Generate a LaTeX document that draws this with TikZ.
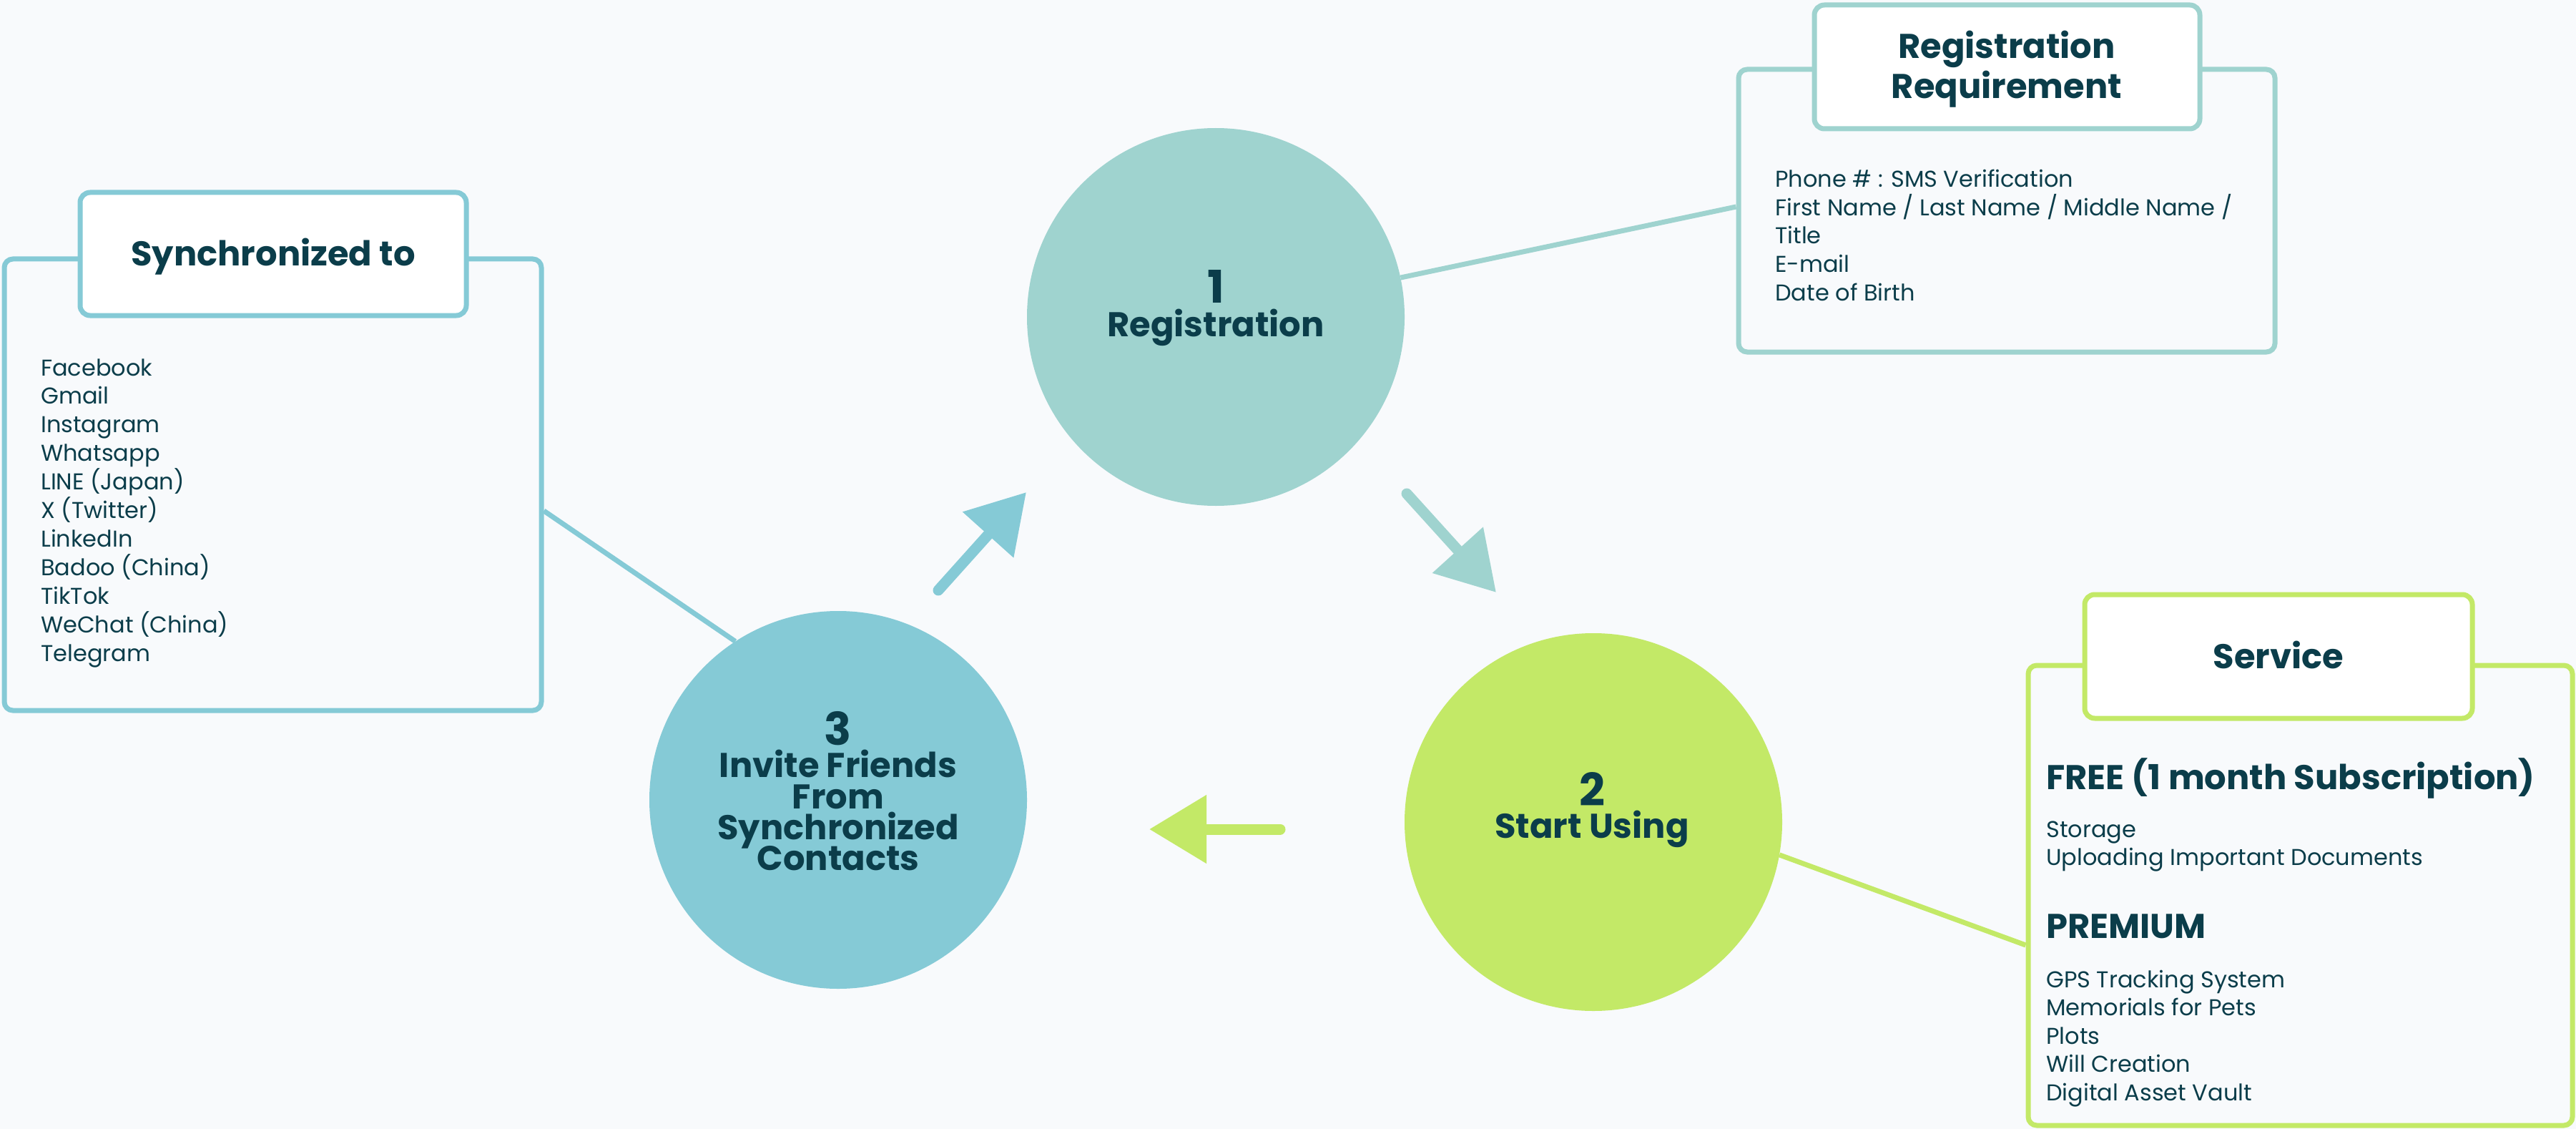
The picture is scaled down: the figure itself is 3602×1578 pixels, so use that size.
\documentclass[tikz,border=0pt]{standalone}
\usepackage{fontspec}
\setmainfont{Poppins}
\usetikzlibrary{arrows.meta,calc}
\definecolor{bg}{HTML}{F8FAFC}
\definecolor{ink}{HTML}{0B3D4A}
\definecolor{tealA}{HTML}{9FD3CF}
\definecolor{tealB}{HTML}{85CAD6}
\definecolor{lime}{HTML}{C3E967}
\begin{document}
\begin{tikzpicture}[x=1pt,y=-1pt,
 bubble/.style={circle,inner sep=0pt,minimum size=528pt},
 frame/.style={draw,line width=7pt,rounded corners=12pt,rectangle,inner sep=0pt,fill=bg},
 head/.style={draw,line width=7pt,rounded corners=14pt,rectangle,inner sep=0pt,fill=white},
 num/.style={font=\fontsize{63}{63}\selectfont\bfseries,text=ink,anchor=base,inner sep=0pt,text height=44pt,text depth=0pt},
 lab/.style={font=\fontsize{48}{48}\selectfont\bfseries,text=ink,anchor=base,inner sep=0pt,text height=34pt,text depth=8pt},
 ttl/.style={font=\fontsize{48}{48}\selectfont\bfseries,text=ink,anchor=base,inner sep=0pt},
 sub/.style={font=\fontsize{48}{48}\selectfont\bfseries,text=ink,anchor=base west,inner sep=0pt},
 item/.style={font=\fontsize{32}{32}\selectfont,text=ink,anchor=base west,inner sep=0pt},
 link/.style={line width=7pt},
 flow/.style={line width=15pt,line cap=round,-{Triangle[length=80pt,width=92pt]}},
]
\useasboundingbox (0,0) rectangle (3602,1578);
\fill[bg] (0,0) rectangle (3602,1578);

% frames
\node[frame,draw=tealB,minimum width=751pt,minimum height=631pt] (syncbox) at (381.5,677.5) {};
\node[head,draw=tealB,minimum width=540pt,minimum height=172pt] (synchead) at (382,355) {};
\node[frame,draw=tealA,minimum width=750pt,minimum height=395pt] (regbox) at (2806,294.5) {};
\node[head,draw=tealA,minimum width=539pt,minimum height=173pt] (reghead) at (2806.5,93.5) {};
\node[frame,draw=lime,minimum width=761pt,minimum height=643pt] (svcbox) at (3216.5,1251.5) {};
\node[head,draw=lime,minimum width=542pt,minimum height=173pt] (svchead) at (3186,917.5) {};

% circles
\node[bubble,fill=tealA] (c1) at (1700,443) {};
\node[bubble,fill=lime] (c2) at (2228,1149) {};
\node[bubble,fill=tealB] (c3) at (1172,1118) {};

% connectors
\draw[link,tealA] (c1.12) -- ([yshift=5.5pt]regbox.west);
\draw[link,tealB] (c3.123) -- ([yshift=-36.5pt]syncbox.east);
\draw[link,lime] (c2.-10) -- ([yshift=-69.5pt]svcbox.west);

% flow arrows
\coordinate (a1s) at (1967,690); \coordinate (a1e) at (2092,828);
\coordinate (a2s) at (1790,1159); \coordinate (a2e) at (1607,1159);
\coordinate (a3s) at (1312,825); \coordinate (a3e) at (1435,688);
\draw[flow,tealA] (a1s) -- (a1e);
\draw[flow,lime] (a2s) -- (a2e);
\draw[flow,tealB] (a3s) -- (a3e);

% circle texts
\node[num] (n1) at (1700,423) {1};
\node[lab] (l1) at (1700,470) {Registration};
\node[num] (n2) at (2226,1126) {2};
\node[lab] (l2) at (2226,1171) {Start Using};
\node[num] (n3) at (1172,1041) {3};
\node[lab] (l3a) at (1172,1086) {Invite Friends};
\node[lab] (l3b) at (1172,1130) {From};
\node[lab] (l3c) at (1172,1173) {Synchronized};
\node[lab] (l3d) at (1172,1216) {Contacts};

% titles
\node[ttl] (t1) at (382,371) {Synchronized to};
\node[ttl] (t2a) at (2806,82) {Registration};
\node[ttl] (t2b) at (2806,138) {Requirement};
\node[ttl] (t3) at (3186,934) {Service};

% lists
\foreach \t [count=\i from 0] in {Facebook,Gmail,Instagram,Whatsapp,LINE (Japan),X (Twitter),LinkedIn,Badoo (China),TikTok,WeChat (China),Telegram}
  \node[item] (sy\i) at (57,{525+39.9*\i}) {\t};
\foreach \t [count=\i from 0] in {Phone \# : SMS Verification,First Name / Last Name / Middle Name /,Title,E-mail,Date of Birth}
  \node[item] (rq\i) at (2482,{262+39.5*\i}) {\t};
\node[sub] (free) at (2861,1103) {FREE (1 month Subscription)};
\node[item] (fr0) at (2861,1170) {Storage};
\node[item] (fr1) at (2861,1209) {Uploading Important Documents};
\node[sub] (prem) at (2861,1311) {PREMIUM};
\foreach \t [count=\i from 0] in {GPS Tracking System,Memorials for Pets,Plots,Will Creation,Digital Asset Vault}
  \node[item] (pm\i) at (2861,{1380+39.5*\i}) {\t};
\end{tikzpicture}
\end{document}
